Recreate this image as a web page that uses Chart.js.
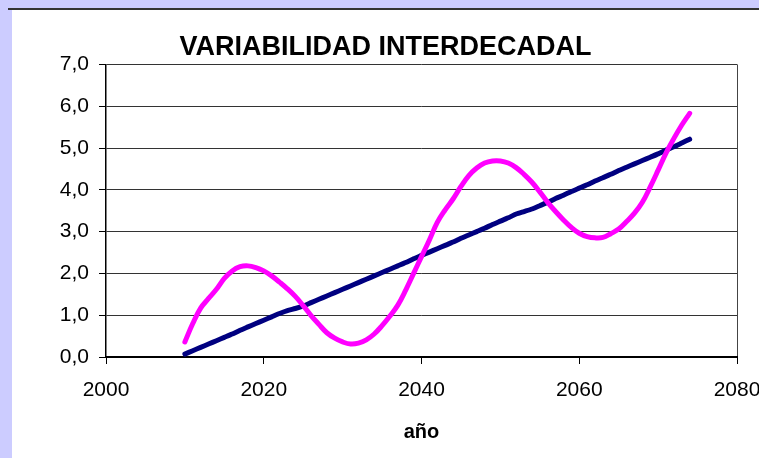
<!DOCTYPE html>
<html>
<head>
<meta charset="utf-8">
<script src="https://cdn.jsdelivr.net/npm/chart.js@4"></script>
<style>
  html, body { margin: 0; padding: 0; }
  body { width: 759px; height: 458px; background: #ccccff; position: relative; overflow: hidden; }
  #topline { position: absolute; left: 8px; top: 8px; right: 0; height: 2px; background: #333333; }
  #panel { position: absolute; left: 12px; top: 10px; width: 747px; height: 448px; background: #ffffff; }
  canvas { display: block; }
</style>
</head>
<body>
<div id="topline"></div>
<div id="panel"><canvas id="c" width="747" height="448"></canvas></div>
<script>
const chartTitle = "VARIABILIDAD INTERDECADAL";
const xAxisTitle = "año";
const years = [2010,2011,2012,2013,2014,2015,2016,2017,2018,2019,
  2020,2021,2022,2023,2024,2025,2026,2027,2028,2029,
  2030,2031,2032,2033,2034,2035,2036,2037,2038,2039,
  2040,2041,2042,2043,2044,2045,2046,2047,2048,2049,
  2050,2051,2052,2053,2054,2055,2056,2057,2058,2059,
  2060,2061,2062,2063,2064,2065,2066,2067,2068,2069,
  2070,2071,2072,2073,2074];
const trendValues = [0.07,0.15,0.23,0.31,0.39,0.47,0.55,0.64,0.72,0.80,
  0.88,0.96,1.04,1.11,1.16,1.22,1.30,1.38,1.46,1.54,
  1.62,1.70,1.78,1.86,1.94,2.02,2.10,2.18,2.26,2.35,
  2.43,2.51,2.59,2.67,2.75,2.84,2.92,3.00,3.08,3.17,
  3.25,3.33,3.42,3.48,3.54,3.62,3.70,3.79,3.87,3.96,
  4.04,4.12,4.21,4.29,4.37,4.46,4.54,4.62,4.70,4.78,
  4.86,4.95,5.03,5.12,5.21];
const variabilityValues = [0.36,0.80,1.17,1.40,1.62,1.88,2.06,2.16,2.18,2.14,
  2.06,1.94,1.79,1.63,1.45,1.23,0.99,0.78,0.58,0.45,
  0.36,0.31,0.33,0.41,0.55,0.75,0.98,1.24,1.60,2.00,
  2.40,2.80,3.22,3.52,3.78,4.08,4.34,4.52,4.64,4.69,
  4.69,4.64,4.53,4.37,4.18,3.95,3.70,3.48,3.28,3.10,
  2.96,2.88,2.85,2.86,2.95,3.06,3.24,3.44,3.70,4.07,
  4.47,4.88,5.23,5.55,5.83];
const xTicks = [2000,2020,2040,2060,2080];
const yTicks = [0,1,2,3,4,5,6,7];

const toPoints = vals => years.map((y, i) => ({x: y, y: vals[i]}));
const FONT = "'Liberation Sans', Arial, sans-serif";

new Chart(document.getElementById('c'), {
  type: 'line',
  data: {
    datasets: [
      { data: toPoints(variabilityValues), borderColor: '#ff00ff', borderWidth: 5,
        pointRadius: 0, tension: 0.4, fill: false, borderCapStyle: 'round', borderJoinStyle: 'round', order: 0 },
      { data: toPoints(trendValues), borderColor: '#000080', borderWidth: 5,
        pointRadius: 0, tension: 0.2, fill: false, borderCapStyle: 'round', borderJoinStyle: 'round', order: 1 }
    ]
  },
  options: {
    responsive: false,
    animation: false,
    events: [],
    layout: { padding: { left: 0, right: 0, top: 0, bottom: 0 } },
    plugins: {
      legend: { display: false },
      tooltip: { enabled: false },
      title: { display: true, text: chartTitle, color: '#000',
        font: { family: FONT, size: 27, weight: 'bold', lineHeight: 1.2 },
        padding: { top: 21, bottom: 1 } }
    },
    scales: {
      x: {
        type: 'linear', min: 2000, max: 2080,
        afterBuildTicks: s => { s.ticks = xTicks.map(v => ({value: v})); },
        afterFit: s => { s.height = 101; s.paddingRight = 22; s.paddingLeft = 0; },
        ticks: { color: '#000', font: { family: FONT, size: 21 }, padding: 14, maxRotation: 0,
          callback: v => String(v) },
        grid: { drawOnChartArea: true, tickLength: 7, tickColor: '#000', lineWidth: 1,
          color: ctx => (ctx.index === xTicks.length - 1 ? '#444' : 'rgba(0,0,0,0)') },
        border: { display: true, color: '#000', width: 2 },
        title: { display: true, text: xAxisTitle, color: '#000',
          font: { family: FONT, size: 20, weight: 'bold', lineHeight: 1.2 },
          padding: { top: 4, bottom: 14 } }
      },
      y: {
        min: 0, max: 7,
        afterBuildTicks: s => { s.ticks = yTicks.map(v => ({value: v})); },
        afterFit: s => { s.width = 94; },
        ticks: { color: '#000', font: { family: FONT, size: 21 }, padding: 10,
          callback: v => v.toFixed(1).replace('.', ',') },
        grid: { color: '#333', lineWidth: 1, tickLength: 7, tickColor: '#000' },
        border: { display: true, color: '#000', width: 1.5 }
      }
    }
  }
});
</script>
</body>
</html>
